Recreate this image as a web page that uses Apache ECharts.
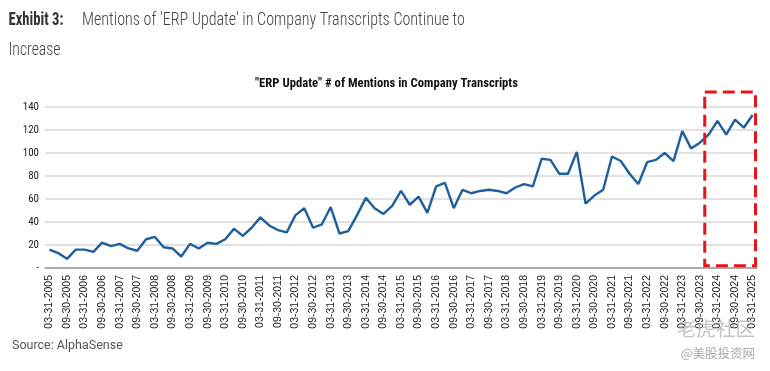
<!DOCTYPE html>
<html>
<head>
<meta charset="utf-8">
<script src="https://cdn.jsdelivr.net/npm/echarts@6/dist/echarts.min.js"></script>
<style>
html,body{margin:0;padding:0;background:#fff;}
#c{width:770px;height:371px;}
</style>
</head>
<body>
<div id="c"></div>
<script>
const categories = [
'03-31-2005','06-30-2005','09-30-2005','12-31-2005',
'03-31-2006','06-30-2006','09-30-2006','12-31-2006',
'03-31-2007','06-30-2007','09-30-2007','12-31-2007',
'03-31-2008','06-30-2008','09-30-2008','12-31-2008',
'03-31-2009','06-30-2009','09-30-2009','12-31-2009',
'03-31-2010','06-30-2010','09-30-2010','12-31-2010',
'03-31-2011','06-30-2011','09-30-2011','12-31-2011',
'03-31-2012','06-30-2012','09-30-2012','12-31-2012',
'03-31-2013','06-30-2013','09-30-2013','12-31-2013',
'03-31-2014','06-30-2014','09-30-2014','12-31-2014',
'03-31-2015','06-30-2015','09-30-2015','12-31-2015',
'03-31-2016','06-30-2016','09-30-2016','12-31-2016',
'03-31-2017','06-30-2017','09-30-2017','12-31-2017',
'03-31-2018','06-30-2018','09-30-2018','12-31-2018',
'03-31-2019','06-30-2019','09-30-2019','12-31-2019',
'03-31-2020','06-30-2020','09-30-2020','12-31-2020',
'03-31-2021','06-30-2021','09-30-2021','12-31-2021',
'03-31-2022','06-30-2022','09-30-2022','12-31-2022',
'03-31-2023','06-30-2023','09-30-2023','12-31-2023',
'03-31-2024','06-30-2024','09-30-2024','12-31-2024',
'03-31-2025'
];
const mentions = [
16,13,8,16, 16,14,22,19, 21,17,15,25, 27,18,17,10,
21,17,22,21, 25,34,28,35, 44,37,33,31, 46,52,35,38,
53,30,32,46, 61,52,47,54, 67,55,62,48, 71,74,52,68,
65,67,68,67, 65,70,73,71, 95,94,82,82, 101,56,63,68,
97,93,82,73, 92,94,100,93, 119,104,109,116, 128,116,129,122,
133
];
const yTicks = [0,20,40,60,80,100,120,140];
const highlightStart = 75; // first highlighted quarter index
const highlightEnd = 80;   // last highlighted quarter index

const titleBold = 'Exhibit 3:';
const titleMain = "Mentions of 'ERP Update' in Company Transcripts Continue to";
const titleLine2 = 'Increase';
const chartTitle = '"ERP Update" # of Mentions in Company Transcripts';
const sourceText = 'Source: AlphaSense';

const condensed = '"Roboto Condensed","Liberation Sans Narrow","DejaVu Sans Condensed","Roboto",sans-serif';
const fBold = 'bold 18px '+condensed;
const fLight = '300 18px '+condensed;
const fChart = 'bold 12.5px '+condensed;

const mctx = document.createElement('canvas').getContext('2d');
function fitScale(text, font, target){ mctx.font = font; return target / mctx.measureText(text).width; }

const chart = echarts.init(document.getElementById('c'), null, {renderer:'canvas'});
const option = {
  animation:false,
  backgroundColor:'#fff',
  grid:{left:45,right:13,top:107,bottom:103,containLabel:false},
  xAxis:{
    type:'category',
    data:categories,
    boundaryGap:true,
    axisLine:{show:true,lineStyle:{color:'#9a9a9a',width:1.5}},
    axisTick:{show:false},
    axisLabel:{interval:1,rotate:90,fontSize:10.5,color:'#222',margin:7,fontFamily:'"Liberation Sans",Arial,sans-serif'},
    splitLine:{show:false}
  },
  yAxis:{
    type:'value',
    min:yTicks[0],max:yTicks[yTicks.length-1],interval:20,
    axisLine:{show:false},
    axisTick:{show:false},
    axisLabel:{fontSize:11,color:'#222',margin:6,fontFamily:condensed,
      formatter:v=> v===0?'-':String(v)},
    splitLine:{lineStyle:{color:'#d9d9d9',width:1.5}}
  },
  series:[{
    type:'line',
    data:mentions,
    symbol:'none',
    lineStyle:{color:'#1f5f9c',width:2.4},
    z:3
  }]
};
chart.setOption(option);

// Highlight box around the latest quarters, positioned via the axis scales
const band = chart.convertToPixel({gridIndex:0},[1,0])[0]-chart.convertToPixel({gridIndex:0},[0,0])[0];
const pTop = chart.convertToPixel({gridIndex:0},[highlightStart,153]);
const pBot = chart.convertToPixel({gridIndex:0},[highlightEnd,2]);
const bx0 = pTop[0]-band/2+0.5, bx1 = pBot[0]+band/2-1.5;

chart.setOption({graphic:[
  {id:'t1',type:'text',x:8.5,y:20,scaleX:fitScale(titleBold,fBold,55),
   style:{text:titleBold,font:fBold,fill:'#333',verticalAlign:'middle'}},
  {id:'t2',type:'text',x:82,y:20,scaleX:fitScale(titleMain,fLight,383),
   style:{text:titleMain,font:fLight,fill:'#444',verticalAlign:'middle'}},
  {id:'t3',type:'text',x:8.5,y:50,scaleX:fitScale(titleLine2,fLight,52),
   style:{text:titleLine2,font:fLight,fill:'#444',verticalAlign:'middle'}},
  {id:'t4',type:'text',x:386.5,y:84,scaleX:fitScale(chartTitle,fChart,263),
   style:{text:chartTitle,font:fChart,fill:'#111',align:'center',verticalAlign:'middle'}},
  {id:'src',type:'text',x:12,y:345.5,style:{text:sourceText,font:'12.5px Roboto,sans-serif',fill:'#555',verticalAlign:'middle'}},
  {id:'wm1',type:'text',x:755,y:329,z:20,style:{text:'老虎社区',font:'19.5px "Noto Sans CJK SC",sans-serif',fill:'rgba(175,175,175,0.75)',align:'right',verticalAlign:'middle'}},
  {id:'wm2',type:'text',x:755,y:353,z:20,style:{text:'@美股投资网',font:'12.5px "Noto Sans CJK SC",sans-serif',fill:'rgba(160,160,160,0.9)',align:'right',verticalAlign:'middle'}},
  {id:'box',type:'rect',z:10,shape:{x:bx0,y:pTop[1],width:bx1-bx0,height:pBot[1]-pTop[1]},
   style:{fill:'none',stroke:'#e8141b',lineWidth:3,lineDash:[12,6]}}
]});
</script>
</body>
</html>
